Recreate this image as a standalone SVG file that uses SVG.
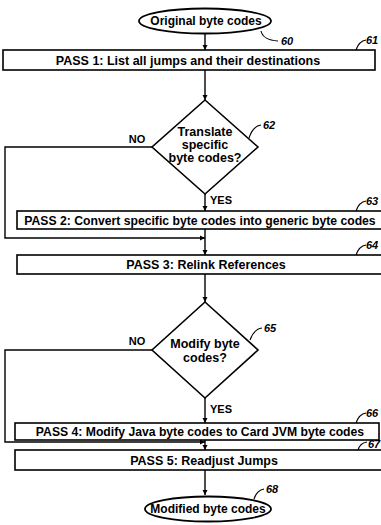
<svg xmlns="http://www.w3.org/2000/svg" width="381" height="525" viewBox="0 0 381 525">
<defs>
<marker id="arr" markerWidth="6" markerHeight="6" refX="5" refY="3" orient="auto" markerUnits="userSpaceOnUse">
<path d="M0,0.5 L5,3 L0,5.5 Z" fill="#000"/>
</marker>
<style>
.box{fill:#fff;stroke:#000;stroke-width:1.6}
.t{font-family:"Liberation Sans",Arial,sans-serif;font-weight:bold;font-size:12.5px;fill:#000;text-anchor:middle}
.s{font-family:"Liberation Sans",Arial,sans-serif;font-weight:bold;font-size:11px;fill:#000;text-anchor:middle}
.n{font-family:"Liberation Sans",Arial,sans-serif;font-weight:bold;font-style:italic;font-size:11px;fill:#000}
.c{fill:none;stroke:#000;stroke-width:1.4}
.ld{fill:none;stroke:#000;stroke-width:1.1}
</style>
</defs>
<rect width="381" height="525" fill="#fff"/>
<g id="connectors">
<path class="c" d="M205 33 V50" marker-end="url(#arr)"/>
<path class="c" d="M205 70 V100" marker-end="url(#arr)"/>
<path class="c" d="M205 194 V211" marker-end="url(#arr)"/>
<path class="c" d="M152 147 H5 V238 H205" marker-end="url(#arr)"/>
<path class="c" d="M205 229 V255" marker-end="url(#arr)"/>
<path class="c" d="M205 274 V302" marker-end="url(#arr)"/>
<path class="c" d="M205 398 V423" marker-end="url(#arr)"/>
<path class="c" d="M152 350 H5 V442 H205" marker-end="url(#arr)"/>
<path class="c" d="M205 440 V450" marker-end="url(#arr)"/>
<path class="c" d="M205 470 V495" marker-end="url(#arr)"/>
<text class="s" x="137" y="143">NO</text>
<text class="s" x="221" y="204">YES</text>
<text class="s" x="137" y="345">NO</text>
<text class="s" x="221" y="413">YES</text>
</g>
<g id="n60">
<ellipse cx="205" cy="21" rx="66" ry="12.5" fill="#fff" stroke="#000" stroke-width="1.8"/>
<text class="t" x="206" y="25" style="font-size:12px">Original byte codes</text>
<path class="ld" d="M261 31 Q263 40 278 41"/>
<text class="n" x="281" y="45">60</text>
</g>
<g id="n61">
<rect class="box" x="3" y="50" width="372" height="20"/>
<text class="t" x="188" y="64.5">PASS 1: List all jumps and their destinations</text>
<path class="ld" d="M356 50 Q359 41 366 40"/>
<text class="n" x="366" y="44">61</text>
</g>
<g id="n62">
<polygon points="205,100 258,147 205,194 152,147" fill="#fff" stroke="#000" stroke-width="1.6"/>
<text class="t" x="205" y="136">Translate</text>
<text class="t" x="205" y="149">specific</text>
<text class="t" x="205" y="162">byte codes?</text>
<path class="ld" d="M249 138 Q253 126 261 125"/>
<text class="n" x="263" y="129">62</text>
</g>
<g id="n63">
<rect class="box" x="17" y="211" width="380" height="18"/>
<text class="t" x="200" y="224.5" style="font-size:12.2px">PASS 2: Convert specific byte codes into generic byte codes</text>
<path class="ld" d="M356 211 Q359 202 366 201"/>
<text class="n" x="366" y="205">63</text>
</g>
<g id="n64">
<rect class="box" x="17" y="255" width="380" height="19"/>
<text class="t" x="206" y="269">PASS 3: Relink References</text>
<path class="ld" d="M356 255 Q359 246 366 245"/>
<text class="n" x="366" y="249">64</text>
</g>
<g id="n65">
<polygon points="205,302 258,350 205,398 152,350" fill="#fff" stroke="#000" stroke-width="1.6"/>
<text class="t" x="205" y="348">Modify byte</text>
<text class="t" x="205" y="362">codes?</text>
<path class="ld" d="M250 340 Q254 329 262 328"/>
<text class="n" x="264" y="332">65</text>
</g>
<g id="n66">
<rect class="box" x="15" y="423" width="364" height="17"/>
<text class="t" x="200" y="435.5" style="font-size:12.2px">PASS 4: Modify Java byte codes to Card JVM byte codes</text>
<path class="ld" d="M356 423 Q359 414 366 413"/>
<text class="n" x="366" y="417">66</text>
</g>
<g id="n67">
<rect class="box" x="15" y="450" width="380" height="20"/>
<text class="t" x="204" y="464.5">PASS 5: Readjust Jumps</text>
<path class="ld" d="M358 450 Q360 443 367 442"/>
<text class="n" x="368" y="448">67</text>
</g>
<g id="n68">
<ellipse cx="208" cy="509" rx="63" ry="12.5" fill="#fff" stroke="#000" stroke-width="1.8"/>
<text class="t" x="208" y="513" style="font-size:12px">Modified byte codes</text>
<path class="ld" d="M254 499 Q257 490 264 489"/>
<text class="n" x="266" y="493">68</text>
</g>
</svg>
